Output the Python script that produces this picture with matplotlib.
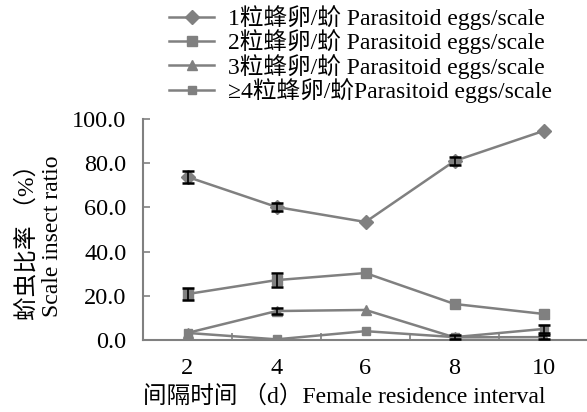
import matplotlib
matplotlib.use('Agg')
import matplotlib.pyplot as plt
from matplotlib.ticker import FixedLocator

plt.rcParams['font.family'] = ['Liberation Serif', 'Noto Sans CJK SC', 'DejaVu Sans']

# Data (0 error = no visible error bar)
intervals = ['2', '4', '6', '8', '10']
one_egg = [73.8, 60.2, 53.4, 81.0, 94.6]
one_err = [2.6, 1.9, 0, 1.6, 0]
two_eggs = [20.8, 27.1, 30.3, 16.3, 11.8]
two_err = [2.6, 3.0, 0, 0, 0]
three_eggs = [3.2, 13.1, 13.6, 1.2, 1.3]
three_err = [0, 1.5, 0, 0, 0.8]
four_eggs = [3.2, 0.3, 4.0, 1.3, 5.0]
four_err = [0, 0, 0, 0.8, 1.9]

labels = ['1粒蜂卵/蚧 Parasitoid eggs/scale',
          '2粒蜂卵/蚧 Parasitoid eggs/scale',
          '3粒蜂卵/蚧 Parasitoid eggs/scale',
          '≥4粒蜂卵/蚧Parasitoid eggs/scale']

gray = '#808080'
fig = plt.figure(figsize=(5.87, 4.12), dpi=100)
ax = fig.add_axes([143 / 587, 72 / 412, 445 / 587, 221 / 412])

x = list(range(1, len(intervals) + 1))
series = [(one_egg, one_err, 'D', 7),
          (two_eggs, two_err, 's', 7.5),
          (three_eggs, three_err, '^', 7),
          (four_eggs, four_err, 's', 5.5)]

handles = []
for (vals, err, mk, ms), lab in zip(series, labels):
    h, = ax.plot(x, vals, color=gray, linewidth=1.8, marker=mk, markersize=ms,
                 markerfacecolor=gray, markeredgecolor=gray, label=lab, zorder=3)
    handles.append(h)
    ex = [xi for xi, e in zip(x, err) if e > 0]
    ev = [v for v, e in zip(vals, err) if e > 0]
    ee = [e for e in err if e > 0]
    ax.errorbar(ex, ev, yerr=ee, fmt='none', ecolor='black', elinewidth=1.2,
                capsize=4, capthick=1.8, zorder=4)

ax.set_xlim(0.5, 5.5)
ax.set_ylim(0, 100)
ax.set_xticks(x)
ax.set_xticklabels(intervals)
ax.xaxis.set_minor_locator(FixedLocator([1.5, 2.5, 3.5, 4.5]))
ax.set_yticks([0, 20, 40, 60, 80, 100])
ax.set_yticklabels(['%.1f' % v for v in [0, 20, 40, 60, 80, 100]])

for side in ['top', 'right']:
    ax.spines[side].set_visible(False)
for side in ['left', 'bottom']:
    ax.spines[side].set_color(gray)
    ax.spines[side].set_linewidth(1.5)

ax.tick_params(axis='x', which='major', length=0, labelsize=17.5, pad=13)
ax.tick_params(axis='x', which='minor', direction='in', length=5, width=1.2, color=gray)
ax.tick_params(axis='y', direction='in', length=5, width=1.2, color=gray,
               labelsize=17.5, pad=12)

ax.set_xlabel('间隔时间 （d）Female residence interval', fontsize=17)
ax.xaxis.set_label_coords(0.452, -0.205)
ax.set_ylabel('蚧虫比率 （%）\nScale insect ratio', fontsize=17,
              linespacing=1.2)
ax.yaxis.set_label_coords(-0.18, 0.47)

fig.legend(handles=handles, loc='upper left', bbox_to_anchor=(155 / 587, 1.022),
           frameon=False, fontsize=17, handlelength=1.9, handletextpad=0.6,
           labelspacing=-0.02, borderaxespad=0.2)

plt.savefig('out.png', dpi=100)
